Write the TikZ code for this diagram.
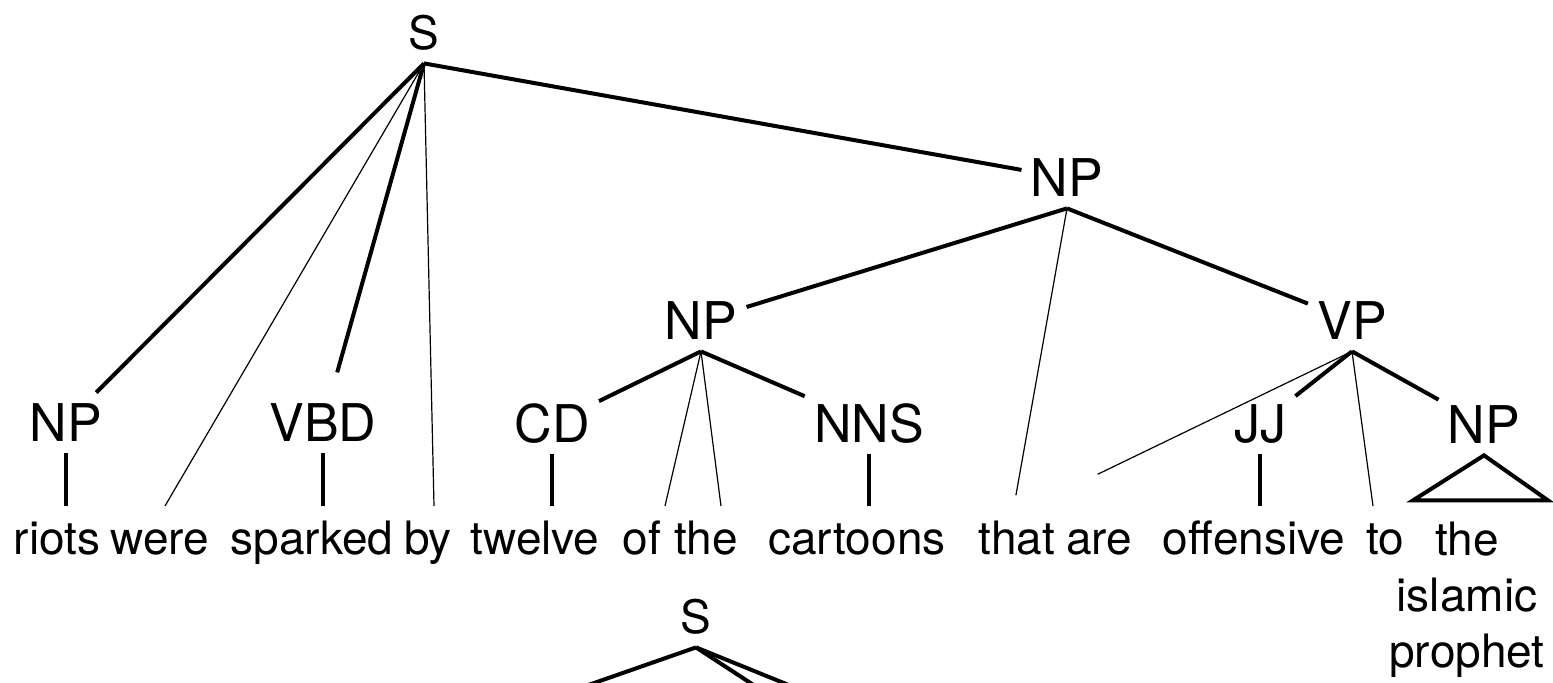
\documentclass[tikz,border=0pt]{standalone}
\usepackage{fontspec}
\setmainfont{TeX Gyre Heros}
\usetikzlibrary{calc}

\begin{document}
\begin{tikzpicture}[x=0.5pt,y=-0.5pt,
  cat/.style={font=\fontsize{26}{30}\selectfont,inner xsep=4.5pt,inner ysep=0pt,minimum height=30pt,text height=18.7pt,text depth=0pt},
  root/.style={cat,font=\fontsize{23}{28}\selectfont,text height=16.5pt},
  word/.style={font=\fontsize{23}{28}\selectfont,anchor=base,inner xsep=2pt,inner ysep=7pt,text height=17.3pt,text depth=5pt},
  branch/.style={line width=2pt},
  leaf/.style={line width=0.6pt}]
\useasboundingbox (0,0) rectangle (1553,683);
\clip (0,0) rectangle (1553,683);

% categories
\node[root] (sroot) at (424,33) {S};
\node[cat] (npriots) at (66,423) {NP};
\node[cat] (vbd) at (323,423) {VBD};
\node[cat] (npobj) at (1067,178) {NP};
\node[cat] (npcart) at (701,321) {NP};
\node[cat] (cd) at (552,424) {CD};
\node[cat] (nns) at (869,424) {NNS};
\node[cat] (vp) at (1352,321) {VP};
\node[cat] (jj) at (1260,424) {JJ};
\node[cat] (npproph) at (1484,425) {NP};
\node[root] (srel) at (696,617) {S};

% words
\node[word] (wriots) at (57,555) {riots};
\node[word] (wwere) at (160,555) {were};
\node[word] (wsparked) at (312,555) {sparked};
\node[word] (wby) at (428,555) {by};
\node[word] (wtwelve) at (535,555) {twelve};
\node[word] (wof) at (642,555) {of};
\node[word] (wthe) at (706,555) {the};
\node[word] (wcartoons) at (857,555) {cartoons};
\node[word] (wthat) at (1017,555) {that};
\node[word] (ware) at (1099,555) {are};
\node[word] (woffensive) at (1254,555) {offensive};
\node[word] (wto) at (1385,555) {to};
\node[font=\fontsize{23}{28}\selectfont,align=center,anchor=north,inner sep=0pt] (wprophet) at (1467,522) {the\\islamic\\prophet};

\coordinate (srelleft) at (494,718);
\coordinate (srelmid) at (804,718);
\coordinate (srelright) at (870,718);

\foreach \a/\b/\s in {sroot/npriots/0pt, sroot/vbd/10.5pt, sroot/npobj/0pt, npobj/npcart/0pt, npobj/vp/0pt,
    npcart/cd/0pt, npcart/nns/0pt, vp/jj/0pt, vp/npproph/0pt}
  \draw[branch,shorten >=\s] (\a.south) -- (\b);

% thin links straight to the words
\foreach \a/\b/\dx/\s in {sroot/wwere/2.5pt/0pt, sroot/wby/3pt/0pt, npcart/wof/11.5pt/0pt, npcart/wthe/7.5pt/0pt,
    npobj/wthat/-1.5pt/5.5pt, vp/ware/-33.5pt/36.5pt, vp/wto/-6pt/0pt}
  \draw[leaf,shorten >=\s] (\a.south) -- ([xshift=\dx]\b.north);

\foreach \a/\b in {npriots/wriots, vbd/wsparked, cd/wtwelve, nns/wcartoons, jj/woffensive}
  \draw[branch] (\a.south) -- (\a.south |- \b.north);

\draw[branch] (npproph.south) -- ++(-71,45) -- ++(135,0) -- cycle;

\foreach \b in {srelleft, srelmid, srelright}
  \draw[branch] (srel.south) -- (\b);
\end{tikzpicture}
\end{document}
